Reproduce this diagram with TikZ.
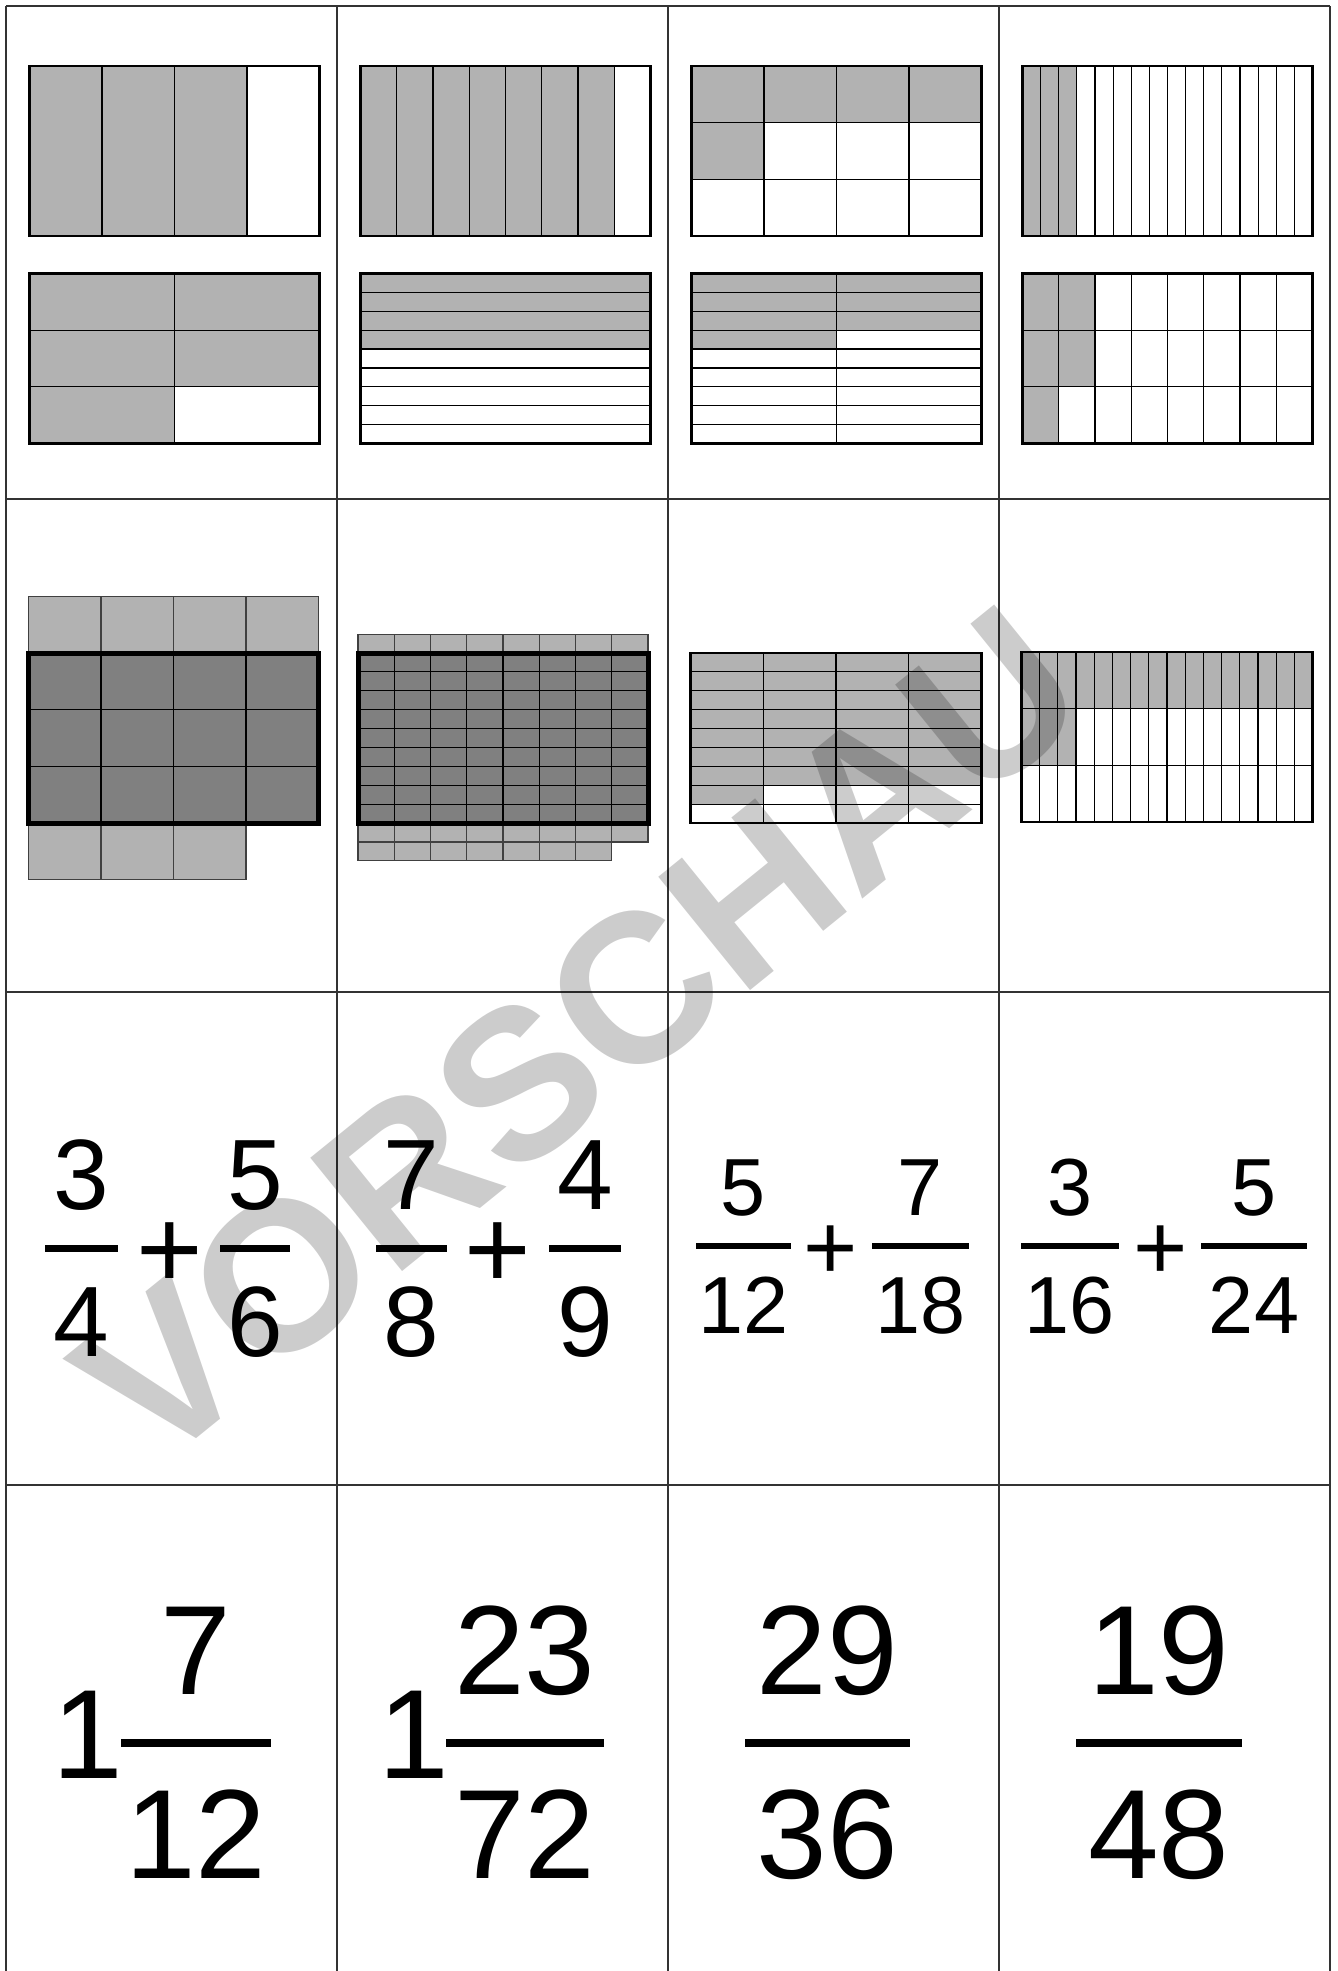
\documentclass[tikz,border=0pt]{standalone}
\usepackage{fontspec}
\setmainfont{Liberation Sans}
\newcommand{\gridlines}[7][thinline]{%
  \pgfmathtruncatemacro\gc{#6-1}\pgfmathtruncatemacro\gr{#7-1}%
  \ifnum\gc>0 \foreach \i in {1,...,\gc}{\draw[#1] ({#2+#4*\i/#6},#3) -- ++(0,#5);}\fi
  \ifnum\gr>0 \foreach \j in {1,...,\gr}{\draw[#1] (#2,{#3+#5*\j/#7}) -- ++(#4,0);}\fi}
\begin{document}
\begin{tikzpicture}[x=1bp,y=-1bp,
  cardline/.style={draw=black!80,line width=1.3bp},
  lg/.style={fill=black!30},
  dg/.style={fill=black!50},
  thinline/.style={line width=1.2bp,draw=black},
  frameline/.style={line width=2.6bp,draw=black},
  heavyline/.style={line width=5bp,draw=black},
  lightcell/.style={line width=1.2bp,draw=black!75},
  bigA/.style={inner sep=0pt,anchor=base,font=\fontsize{100bp}{100bp}\selectfont},
  bigB/.style={inner sep=0pt,anchor=base,font=\fontsize{81bp}{81bp}\selectfont},
  bigC/.style={inner sep=0pt,anchor=base,font=\fontsize{127bp}{127bp}\selectfont},
  plusA/.style={inner sep=0pt,anchor=base,font=\fontsize{114bp}{114bp}\selectfont},
  plusB/.style={inner sep=0pt,anchor=base,font=\fontsize{93bp}{93bp}\selectfont},
  barA/.style={line width=7bp},
  barB/.style={line width=6bp},
  barC/.style={line width=8bp},
]
\useasboundingbox (0,0) rectangle (1338,1971);
\fill[white] (0,0) rectangle (1338,1971);

% ---------- Row 0 ----------
% col 0 top: 3/4
\fill[lg] (29.5,66) rectangle ++(217.5,170);
\gridlines{29.5}{66}{290}{170}{4}{1}
\draw[frameline] (29.5,66) rectangle ++(290,170);
% col 0 bottom: 5/6
\fill[lg] (29.5,273.5) rectangle ++(290,113.333);
\fill[lg] (29.5,386.833) rectangle ++(145,56.667);
\gridlines{29.5}{273.5}{290}{170}{2}{3}
\draw[frameline] (29.5,273.5) rectangle ++(290,170);
% col 1 top: 7/8
\fill[lg] (360.5,66) rectangle ++(253.75,170);
\gridlines{360.5}{66}{290}{170}{8}{1}
\draw[frameline] (360.5,66) rectangle ++(290,170);
% col 1 bottom: 4/9
\fill[lg] (360.5,273.5) rectangle ++(290,75.556);
\gridlines{360.5}{273.5}{290}{170}{1}{9}
\draw[frameline] (360.5,273.5) rectangle ++(290,170);
% col 2 top: 5/12
\fill[lg] (691.5,66) rectangle ++(290,56.667);
\fill[lg] (691.5,122.667) rectangle ++(72.5,56.667);
\gridlines{691.5}{66}{290}{170}{4}{3}
\draw[frameline] (691.5,66) rectangle ++(290,170);
% col 2 bottom: 7/18
\fill[lg] (691.5,273.5) rectangle ++(145,75.556);
\fill[lg] (836.5,273.5) rectangle ++(145,56.667);
\gridlines{691.5}{273.5}{290}{170}{2}{9}
\draw[frameline] (691.5,273.5) rectangle ++(290,170);
% col 3 top: 3/16
\fill[lg] (1022.5,66) rectangle ++(54.375,170);
\gridlines{1022.5}{66}{290}{170}{16}{1}
\draw[frameline] (1022.5,66) rectangle ++(290,170);
% col 3 bottom: 5/24
\fill[lg] (1022.5,273.5) rectangle ++(36.25,170);
\fill[lg] (1058.75,273.5) rectangle ++(36.25,113.333);
\gridlines{1022.5}{273.5}{290}{170}{8}{3}
\draw[frameline] (1022.5,273.5) rectangle ++(290,170);

% ---------- Row 1 ----------
% col 0: 19/12
\fill[lg] (28.5,596.333) rectangle ++(290,56.667);
\gridlines[lightcell]{28.5}{596.333}{290}{56.667}{4}{1}
\draw[lightcell] (28.5,596.333) rectangle ++(290,56.667);
\fill[lg] (28.5,823) rectangle ++(217.5,56.667);
\gridlines[lightcell]{28.5}{823}{217.5}{56.667}{3}{1}
\draw[lightcell] (28.5,823) rectangle ++(217.5,56.667);
\fill[dg] (28.5,653) rectangle ++(290,170);
\gridlines{28.5}{653}{290}{170}{4}{3}
\draw[heavyline] (28.5,653) rectangle ++(290,170);
% col 1: 95/72
\fill[lg] (358,634.111) rectangle ++(290,18.889);
\gridlines[lightcell]{358}{634.111}{290}{18.889}{8}{1}
\draw[lightcell] (358,634.111) rectangle ++(290,18.889);
\fill[lg] (358,823) rectangle ++(290,18.889);
\gridlines[lightcell]{358}{823}{290}{18.889}{8}{1}
\draw[lightcell] (358,823) rectangle ++(290,18.889);
\fill[lg] (358,841.889) rectangle ++(253.75,18.889);
\gridlines[lightcell]{358}{841.889}{253.75}{18.889}{7}{1}
\draw[lightcell] (358,841.889) rectangle ++(253.75,18.889);
\fill[dg] (358,653) rectangle ++(290,170);
\gridlines{358}{653}{290}{170}{8}{9}
\draw[heavyline] (358,653) rectangle ++(290,170);
% col 2: 29/36
\fill[lg] (690.5,653) rectangle ++(291,132.222);
\fill[lg] (690.5,785.222) rectangle ++(72.75,18.889);
\gridlines{690.5}{653}{291}{170}{4}{9}
\draw[frameline] (690.5,653) rectangle ++(291,170);
% col 3: 19/48
\fill[lg] (1021.5,652) rectangle ++(291,56.667);
\fill[lg] (1021.5,708.667) rectangle ++(54.5625,56.667);
\gridlines{1021.5}{652}{291}{170}{16}{3}
\draw[frameline] (1021.5,652) rectangle ++(291,170);

% ---------- Row 2 ----------
\node[bigA] (a1n) at (81.5,1209) {3};
\node[bigA] (a1d) at (81.5,1356) {4};
\draw[barA] (45,1248) -- (118,1248);
\node[plusA] (a1p) at (170,1288) {+};
\node[bigA] (a2n) at (255,1209) {5};
\node[bigA] (a2d) at (255,1356) {6};
\draw[barA] (220,1248) -- (290,1248);

\node[bigA] (b1n) at (411.5,1209) {7};
\node[bigA] (b1d) at (411.5,1356) {8};
\draw[barA] (376,1248) -- (447,1248);
\node[plusA] (b1p) at (497.5,1288) {+};
\node[bigA] (b2n) at (585,1209) {4};
\node[bigA] (b2d) at (585,1356) {9};
\draw[barA] (549,1248) -- (621,1248);

\node[bigB] (c1n) at (743.5,1215) {5};
\node[bigB] (c1d) at (743.5,1333) {12};
\draw[barB] (696,1246) -- (791,1246);
\node[plusB] (c1p) at (831,1279) {+};
\node[bigB] (c2n) at (920.5,1215) {7};
\node[bigB] (c2d) at (920.5,1333) {18};
\draw[barB] (872,1246) -- (969,1246);

\node[bigB] (d1n) at (1070,1215) {3};
\node[bigB] (d1d) at (1070,1333) {16};
\draw[barB] (1021,1246) -- (1119,1246);
\node[plusB] (d1p) at (1160.5,1279) {+};
\node[bigB] (d2n) at (1254,1215) {5};
\node[bigB] (d2d) at (1254,1333) {24};
\draw[barB] (1201,1246) -- (1307,1246);

% ---------- Row 3 ----------
\node[bigC,anchor=base west] (e1w) at (52,1778) {1};
\node[bigC] (e1n) at (196,1694) {7};
\node[bigC] (e1d) at (196,1878) {12};
\draw[barC] (121,1743) -- (271,1743);

\node[bigC,anchor=base west] (f1w) at (378,1778) {1};
\node[bigC] (f1n) at (525,1694) {23};
\node[bigC] (f1d) at (525,1878) {72};
\draw[barC] (446,1743) -- (604,1743);

\node[bigC] (g1n) at (827.5,1694) {29};
\node[bigC] (g1d) at (827.5,1878) {36};
\draw[barC] (745,1743) -- (910,1743);

\node[bigC] (h1n) at (1159,1694) {19};
\node[bigC] (h1d) at (1159,1878) {48};
\draw[barC] (1076,1743) -- (1242,1743);

% ---------- card grid ----------
\foreach \x in {6,337,668,999,1330} \draw[cardline] (\x,6) -- (\x,1971);
\foreach \y in {6,499,992,1485} \draw[cardline] (6,\y) -- (1330,\y);

% ---------- watermark ----------
\node[rotate=39,inner sep=0pt,text=black,text opacity=0.2,
  font=\bfseries\fontsize{212bp}{212bp}\selectfont] (wm) at (579,1035) {VORSCHAU};
\end{tikzpicture}
\end{document}
